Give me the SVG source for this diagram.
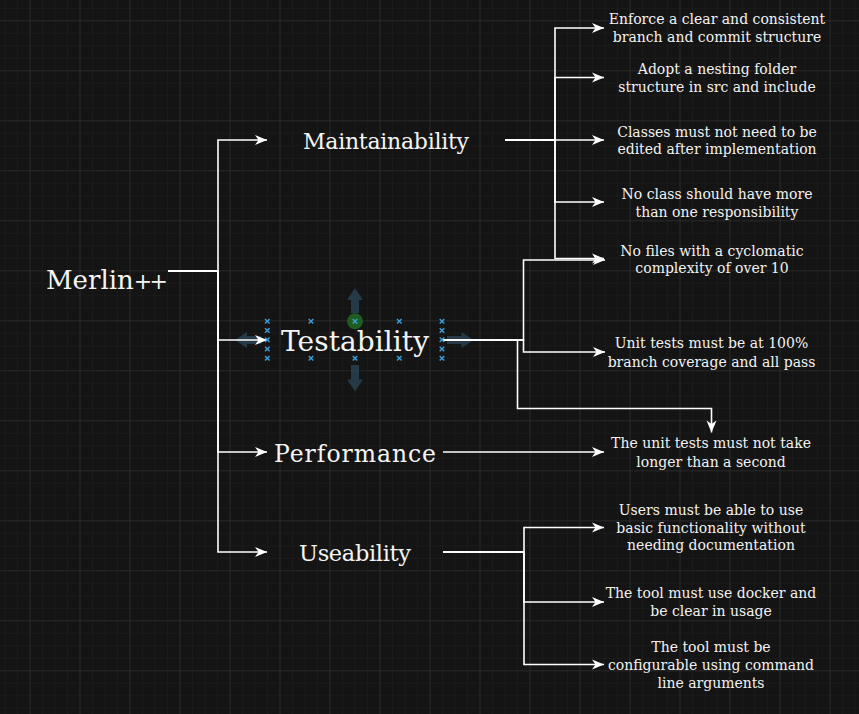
<svg xmlns="http://www.w3.org/2000/svg" width="859" height="714" viewBox="0 0 859 714">
<defs>
<pattern id="minor" patternUnits="userSpaceOnUse" x="4.5" y="7.8" width="12.5" height="12.5">
<path d="M0,0 H12.5 M0,0 V12.5" stroke="#202020" stroke-width="1" fill="none"/>
</pattern>
<pattern id="major" patternUnits="userSpaceOnUse" x="29.5" y="20.3" width="50" height="50">
<path d="M0,0 H50 M0,0 V50" stroke="#363636" stroke-width="1" fill="none"/>
</pattern>
<marker id="arr" markerUnits="userSpaceOnUse" markerWidth="14" markerHeight="12" refX="12" refY="5" orient="auto" overflow="visible">
<path d="M0,0 L12,5 L0,10 L3.5,5 Z" fill="#ffffff"/>
</marker>
<path id="xm" d="M-2.3,-2.3 L2.3,2.3 M-2.3,2.3 L2.3,-2.3" stroke="#3d9fd8" stroke-width="1.4" fill="none"/>
</defs>
<style>
.bg{fill:#141414}
.con{fill:none;stroke:#ffffff;stroke-width:1.6;marker-end:url(#arr)}
.big{font-family:"DejaVu Serif","Liberation Serif",serif;fill:#f4f4f4;text-anchor:middle}
.sm{font-family:"DejaVu Serif","Liberation Serif",serif;font-size:14px;fill:#f2f2f2;text-anchor:middle}
.hov{fill:#29404f;opacity:0.85}
</style>
<rect class="bg" x="0" y="0" width="859" height="714"/>
<rect x="0" y="0" width="859" height="714" fill="url(#minor)"/>
<rect x="0" y="0" width="859" height="714" fill="url(#major)"/>

<g id="selection-hover">
<path class="hov" d="M355,288 L363,300 L359,300 L359,313 L351,313 L351,300 L347,300 Z"/>
<path class="hov" d="M355,391.5 L363,379.5 L359,379.5 L359,365 L351,365 L351,379.5 L347,379.5 Z"/>
<path class="hov" d="M235,340 L247,332 L247,336 L261.5,336 L261.5,344 L247,344 L247,348 Z"/>
<path class="hov" d="M473.5,340 L461.5,332 L461.5,336 L447,336 L447,344 L461.5,344 L461.5,348 Z"/>
</g>

<g id="connectors">
<path class="con" d="M168,271 H218 V140 H267"/>
<path class="con" d="M168,271 H218 V340 H267"/>
<path class="con" d="M168,271 H218 V452 H267"/>
<path class="con" d="M168,271 H218 V552 H267"/>
<path class="con" d="M505,140 H555 V28 H604"/>
<path class="con" d="M505,140 H555 V77.5 H604"/>
<path class="con" d="M505,140 H604"/>
<path class="con" d="M505,140 H555 V202 H604"/>
<path class="con" d="M505,140 H555 V258.5 H604"/>
<path class="con" d="M442,340 H523.5 V260 H605"/>
<path class="con" d="M442,340 H523.5 V352 H605"/>
<path class="con" d="M442,340 H517.5 V408.5 H711.5 V432.5"/>
<path class="con" d="M443,452 H604"/>
<path class="con" d="M443,552 H524 V527.5 H604"/>
<path class="con" d="M443,552 H524 V602 H604"/>
<path class="con" d="M443,552 H524 V664.5 H604"/>
</g>

<g id="merlin"><text class="big" x="46" y="289" font-size="26" style="text-anchor:start">Merlin<tspan font-size="22" letter-spacing="-2.8">++</tspan></text></g>
<g id="maintainability"><text class="big" x="386" y="148.5" font-size="22" textLength="166">Maintainability</text></g>
<g id="testability"><text class="big" x="355" y="351" font-size="28" textLength="148">Testability</text></g>
<g id="performance"><text class="big" x="355" y="462.3" font-size="23.5" textLength="162">Performance</text></g>
<g id="useability"><text class="big" x="355" y="560.7" font-size="22.5" textLength="112">Useability</text></g>

<g id="testability-handles">
<circle cx="355" cy="321.3" r="8" fill="#1e5c22"/>
<use href="#xm" x="267.3" y="321.3"/><use href="#xm" x="267.3" y="330.5"/><use href="#xm" x="267.3" y="339.8"/><use href="#xm" x="267.3" y="349"/><use href="#xm" x="267.3" y="358.3"/>
<use href="#xm" x="442" y="321.3"/><use href="#xm" x="442" y="330.5"/><use href="#xm" x="442" y="339.8"/><use href="#xm" x="442" y="349"/><use href="#xm" x="442" y="358.3"/>
<use href="#xm" x="311" y="321.3"/><use href="#xm" x="355" y="321.3"/><use href="#xm" x="399.3" y="321.3"/>
<use href="#xm" x="311" y="358.3"/><use href="#xm" x="355" y="358.3"/><use href="#xm" x="399.3" y="358.3"/>
</g>

<g id="m1"><text class="sm" x="717" y="24"><tspan x="717">Enforce a clear and consistent</tspan><tspan x="717" y="41.7">branch and commit structure</tspan></text></g>
<g id="m2"><text class="sm" x="717" y="74.3"><tspan x="717">Adopt a nesting folder</tspan><tspan x="717" y="91.7">structure in src and include</tspan></text></g>
<g id="m3"><text class="sm" x="717" y="136.7"><tspan x="717">Classes must not need to be</tspan><tspan x="717" y="154">edited after implementation</tspan></text></g>
<g id="m4"><text class="sm" x="717" y="199"><tspan x="717">No class should have more</tspan><tspan x="717" y="216.7">than one responsibility</tspan></text></g>
<g id="t1"><text class="sm" x="712" y="255.7"><tspan x="712">No files with a cyclomatic</tspan><tspan x="712" y="273">complexity of over 10</tspan></text></g>
<g id="t2"><text class="sm" x="711.5" y="348.3"><tspan x="711.5">Unit tests must be at 100%</tspan><tspan x="711.5" y="366.5">branch coverage and all pass</tspan></text></g>
<g id="p1"><text class="sm" x="711" y="448.3"><tspan x="711">The unit tests must not take</tspan><tspan x="711" y="466.7">longer than a second</tspan></text></g>
<g id="u1"><text class="sm" x="711" y="515"><tspan x="711">Users must be able to use</tspan><tspan x="711" y="532.7">basic functionality without</tspan><tspan x="711" y="550">needing documentation</tspan></text></g>
<g id="u2"><text class="sm" x="711" y="598.3"><tspan x="711">The tool must use docker and</tspan><tspan x="711" y="616">be clear in usage</tspan></text></g>
<g id="u3"><text class="sm" x="711" y="652.3"><tspan x="711">The tool must be</tspan><tspan x="711" y="670">configurable using command</tspan><tspan x="711" y="687.5">line arguments</tspan></text></g>
</svg>
